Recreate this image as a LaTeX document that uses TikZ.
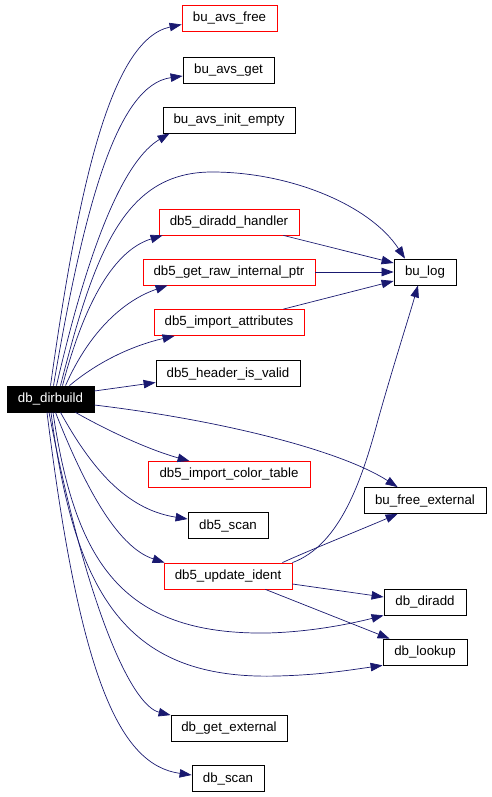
\documentclass[tikz,border=0pt]{standalone}
\usepackage{fontspec}
\setmainfont{Liberation Sans}
\usetikzlibrary{arrows.meta}
\definecolor{edgeblue}{HTML}{191970}
\tikzset{
  fn/.style={draw=black, line width=0.8pt, minimum height=26pt, inner sep=0pt, font=\fontsize{13.3}{15}\selectfont},
  fnred/.style={fn, draw=red},
  root/.style={fn, fill=black, text=white},
  call/.style={draw=edgeblue, line width=0.7pt, -{Triangle[length=12pt,width=8.5pt]}},
}
\begin{document}
\begin{tikzpicture}[x=1pt,y=-1pt]
  \useasboundingbox (0,0) rectangle (491,797);

  \node[root,  minimum width=87pt]  (dirbuild)   at (50.5,399)  {db\_dirbuild};
  \node[fnred, minimum width=95pt]  (avsfree)    at (229.5,18.5) {bu\_avs\_free};
  \node[fn,    minimum width=91pt]  (avsget)     at (228.5,70)  {bu\_avs\_get};
  \node[fn,    minimum width=132pt] (avsinit)    at (229,120)   {bu\_avs\_init\_empty};
  \node[fnred, minimum width=140pt] (diraddh)    at (229,222)   {db5\_diradd\_handler};
  \node[fnred, minimum width=172pt] (rawptr)     at (229,272)   {db5\_get\_raw\_internal\_ptr};
  \node[fnred, minimum width=150pt] (importattr) at (229,322.5) {db5\_import\_attributes};
  \node[fn,    minimum width=144pt] (hdrvalid)   at (228,373.5) {db5\_header\_is\_valid};
  \node[fnred, minimum width=162pt] (colortable) at (229,474.5) {db5\_import\_color\_table};
  \node[fn,    minimum width=80pt]  (scanfive)   at (228,525.5) {db5\_scan};
  \node[fnred, minimum width=128pt] (updident)   at (228,576)   {db5\_update\_ident};
  \node[fn,    minimum width=116pt] (getext)     at (229,728.5) {db\_get\_external};
  \node[fn,    minimum width=72pt]  (dbscan)     at (228,778.5) {db\_scan};
  \node[fn,    minimum width=62pt]  (bulog)      at (425,272)   {bu\_log};
  \node[fn,    minimum width=122pt] (freeext)    at (425,500.5) {bu\_free\_external};
  \node[fn,    minimum width=82pt]  (diradd)     at (425,602)   {db\_diradd};
  \node[fn,    minimum width=84pt]  (lookup)     at (425,652)   {db\_lookup};

  \draw[call] (dirbuild.north) .. controls (78,190) and (110,40) .. ([yshift=-6pt]avsfree.west);
  \draw[call] ([xshift=3pt]dirbuild.north) .. controls (85,200) and (118,85) .. ([yshift=-6pt]avsget.west);
  \draw[call] ([xshift=6pt]dirbuild.north) .. controls (90,240) and (125,160) .. ([xshift=7pt]avsinit.south west);
  \draw[call] ([xshift=10pt]dirbuild.north) .. controls (95,250) and (125,172) .. (212,172)
    .. controls (290,172) and (370,205) .. ([xshift=-20pt]bulog.north);
  \draw[call] ([xshift=12pt]dirbuild.north) .. controls (85,300) and (115,250) .. ([xshift=4pt]diraddh.south west);
  \draw[call] ([xshift=15pt]dirbuild.north) .. controls (90,330) and (125,300) .. ([xshift=25pt]rawptr.south west);
  \draw[call] ([xshift=19pt]dirbuild.north) .. controls (100,360) and (135,345) .. ([xshift=21pt]importattr.south west);
  \draw[call] ([yshift=8pt]dirbuild.east) -- ([yshift=-9pt]hdrvalid.west);
  \draw[call] ([xshift=25pt]dirbuild.south) .. controls (110,432) and (150,450) .. ([xshift=42pt]colortable.north west);
  \draw[call] ([yshift=-6pt]dirbuild.east) .. controls (220,420) and (340,450) .. ([xshift=34pt]freeext.north west);
  \draw[call] ([xshift=10pt]dirbuild.south) .. controls (95,475) and (130,510) .. ([yshift=6.5pt]scanfive.west);
  \draw[call] ([xshift=5pt]dirbuild.south) .. controls (88,495) and (120,548) .. ([xshift=1pt]updident.north west);
  \draw[call] ([xshift=2.5pt]dirbuild.south) .. controls (75,560) and (120,635) .. (267,633)
    .. controls (310,632) and (350,624) .. (diradd.south west);
  \draw[call] ([xshift=0.5pt]dirbuild.south) .. controls (75,600) and (130,680) .. (277,676)
    .. controls (320,675) and (350,670) .. (lookup.south west);
  \draw[call] ([xshift=-1.5pt]dirbuild.south) .. controls (85,600) and (130,705) .. (getext.north west);
  \draw[call] ([xshift=-3.5pt]dirbuild.south) .. controls (80,680) and (120,765) .. ([yshift=3.5pt]dbscan.west);

  \draw[call] ([xshift=-16pt]diraddh.south east) -- ([yshift=9pt]bulog.west);
  \draw[call] (rawptr.east) -- (bulog.west);
  \draw[call] ([xshift=-21pt]importattr.north east) -- ([yshift=-9pt]bulog.west);
  \draw[call] (updident.north east) .. controls (340,545) and (362,480) .. (378,420)
    .. controls (392,370) and (408,320) .. ([xshift=-7pt]bulog.south);
  \draw[call] ([xshift=-10pt]updident.north east) .. controls (310,550) and (360,530) .. ([xshift=34pt]freeext.south west);
  \draw[call] ([yshift=-8pt]updident.east) -- ([yshift=5pt]diradd.west);
  \draw[call] ([xshift=-27pt]updident.south east) -- ([xshift=7pt]lookup.north west);
\end{tikzpicture}
\end{document}
